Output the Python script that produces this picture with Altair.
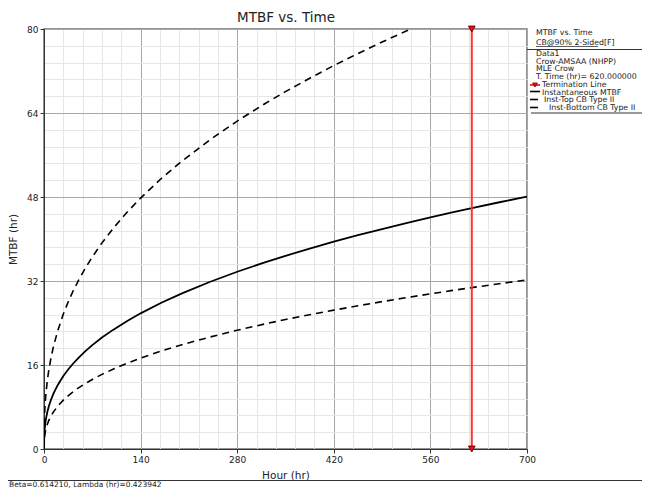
import altair as alt
import pandas as pd

# ---------------- data ----------------
hours = [0, 0.5, 1, 2, 3, 5, 7, 10, 14, 20, 28, 35, 42, 50, 60, 70, 84, 100, 120, 140,
         170, 200, 240, 280, 320, 350, 385, 420, 455, 490, 525, 560, 590, 620, 660, 700]
inst_mtbf = [0, 2.94, 3.84, 5.02, 5.87, 7.14, 8.13, 9.34, 10.63, 12.20, 13.89, 15.14, 16.24,
             17.37, 18.63, 19.78, 21.22, 22.69, 24.35, 25.84, 27.85, 29.65, 31.81, 33.76,
             35.55, 36.80, 38.17, 39.48, 40.72, 41.90, 43.03, 44.11, 45.01, 45.88, 47.00, 48.08]
top_hours = [0, 0.5, 1, 2, 3, 5, 7, 10, 14, 20, 28, 35, 42, 50, 60, 70, 84, 100, 120, 140,
             170, 200, 240, 280, 320, 350, 385, 420, 455, 490, 525, 560]
top_cb = [0, 5.44, 7.10, 9.29, 10.86, 13.21, 15.04, 17.28, 19.67, 22.57, 25.70, 28.01, 30.04,
          32.13, 34.47, 36.59, 39.26, 41.98, 45.05, 47.80, 51.52, 54.85, 58.85, 62.46,
          65.77, 68.08, 70.61, 73.04, 75.33, 77.52, 79.61, 81.60]
bottom_cb = [0, 1.97, 2.57, 3.36, 3.93, 4.78, 5.45, 6.26, 7.12, 8.17, 9.31, 10.14, 10.88,
             11.64, 12.48, 13.25, 14.22, 15.20, 16.31, 17.31, 18.66, 19.87, 21.31, 22.62,
             23.82, 24.66, 25.57, 26.45, 27.28, 28.07, 28.83, 29.55, 30.16, 30.74, 31.49, 32.21]
term_hour = [620, 620]
term_mtbf = [0, 80]

x_ticks = [0, 28, 56, 84, 112, 140, 168, 196, 224, 252, 280, 308, 336, 364, 392, 420,
           448, 476, 504, 532, 560, 588, 616, 644, 672, 700]
y_ticks = [0, 3.2, 6.4, 9.6, 12.8, 16, 19.2, 22.4, 25.6, 28.8, 32, 35.2, 38.4, 41.6, 44.8,
           48, 51.2, 54.4, 57.6, 60.8, 64, 67.2, 70.4, 73.6, 76.8, 80]

chart_title = "MTBF vs. Time"
legend_header = ["MTBF vs. Time", "CB@90% 2-Sided[F]"]
legend_info = ["Data1", "Crow-AMSAA (NHPP)", "MLE Crow", "T. Time (hr)= 620.000000"]
legend_items = ["Termination Line", "Instantaneous MTBF", "Inst-Top CB Type II",
                "Inst-Bottom CB Type II"]
status_text = "Beta=0.614210, Lambda (hr)=0.423942"

# ---------------- styling ----------------
FONT = "DejaVu Sans"
W, H = 483, 420
RED = "#ff3333"

main_df = pd.DataFrame({"hour": hours, "mtbf": inst_mtbf})
top_df = pd.DataFrame({"hour": top_hours, "mtbf": top_cb})
bot_df = pd.DataFrame({"hour": hours, "mtbf": bottom_cb})
term_df = pd.DataFrame({"hour": term_hour, "mtbf": term_mtbf})
one = pd.DataFrame({"k": [0]})

x_axis = alt.Axis(
    values=x_ticks,
    labelExpr="datum.value % 140 === 0 ? datum.label : ''",
    grid=True,
    gridColor=alt.condition("datum.value % 140 === 0", alt.value("#a8a8a8"), alt.value("#e6e6e6")),
    tickColor=alt.condition("datum.value % 140 === 0", alt.value("#333333"), alt.value("transparent")),
    tickSize=4, labelPadding=2, titlePadding=6, labelFlush=False,
)
y_axis = alt.Axis(
    values=y_ticks,
    labelExpr="datum.value % 16 === 0 ? datum.label : ''",
    grid=True,
    gridColor=alt.condition("datum.value % 16 === 0", alt.value("#a8a8a8"), alt.value("#e6e6e6")),
    tickColor=alt.condition("datum.value % 16 === 0", alt.value("#333333"), alt.value("transparent")),
    tickSize=4, labelPadding=2, titlePadding=8, labelFlush=False,
)
x_enc = alt.X("hour:Q", scale=alt.Scale(domain=[0, 700], nice=False, zero=False),
              axis=x_axis, title="Hour (hr)")
y_enc = alt.Y("mtbf:Q", scale=alt.Scale(domain=[0, 80], nice=False),
              axis=y_axis, title="MTBF (hr)")

inst_line = alt.Chart(main_df).mark_line(color="black", strokeWidth=1.8, clip=True).encode(x=x_enc, y=y_enc)
top_line = alt.Chart(top_df).mark_line(color="black", strokeWidth=1.6, strokeDash=[7, 5], clip=True).encode(x=x_enc, y=y_enc)
bot_line = alt.Chart(bot_df).mark_line(color="black", strokeWidth=1.6, strokeDash=[7, 5], clip=True).encode(x=x_enc, y=y_enc)
term_line = alt.Chart(term_df).mark_line(color=RED, strokeWidth=2).encode(x=x_enc, y=y_enc)
term_pts = alt.Chart(term_df).mark_point(shape="triangle-down", filled=True, fill="#ee1111",
                                         stroke="#7a0000", strokeWidth=1, size=45, opacity=1).encode(x=x_enc, y=y_enc)


def txt(s, x, y, size=7.8, align="left"):
    return alt.Chart(one).mark_text(font=FONT, fontSize=size, align=align, baseline="middle",
                                    color="#222222").encode(
        x=alt.value(x), y=alt.value(y), text=alt.value(s))


def hline(x1, x2, y, color="#333333", width=1.0):
    return alt.Chart(one).mark_rule(color=color, strokeWidth=width).encode(
        x=alt.value(x1), x2=alt.value(x2), y=alt.value(y))


# offsets: plot origin is at page (44, 29)
ox, oy = 44, 29
layers = [inst_line, top_line, bot_line, term_line, term_pts]
layers.append(txt(chart_title, 286 - ox, 17.5 - oy, size=13.5, align="center"))

# legend panel
layers.append(txt(legend_header[0], 536 - ox, 33 - oy))
layers.append(txt(legend_header[1], 536 - ox, 42.5 - oy))
layers.append(hline(536 - ox, 598 - ox, 46.5 - oy, width=0.8))
layers.append(hline(527 - ox, 642 - ox, 49.5 - oy, width=1))
for i, s in enumerate(legend_info):
    layers.append(txt(s, 536 - ox, 54 + i * 7.6 - oy))
item_y = [85, 92.5, 100, 107.7]
item_x = [542, 542, 544, 549]
for s, yy, xx in zip(legend_items, item_y, item_x):
    layers.append(txt(s, xx - ox, yy - oy))
layers.append(hline(530 - ox, 540 - ox, 85 - oy, color=RED, width=2))
layers.append(alt.Chart(one).mark_point(shape="triangle-down", filled=True, fill="#ee1111",
                                        stroke="#7a0000", strokeWidth=0.8, size=22, opacity=1).encode(
    x=alt.value(535 - ox), y=alt.value(85 - oy)))
layers.append(hline(530 - ox, 540 - ox, 91.5 - oy, color="black", width=1.6))
layers.append(hline(530 - ox, 538 - ox, 99.5 - oy, color="black", width=1.6))
layers.append(hline(530 - ox, 538 - ox, 107.5 - oy, color="black", width=1.6))
layers.append(hline(531 - ox, 642 - ox, 113 - oy, width=1))

# status bar (kept inside the visible page)
layers.append(hline(8 - ox, 642 - ox, 480.5 - oy, width=1.2))
layers.append(txt(status_text, 9 - ox, 484.5 - oy, size=7.5))

chart = alt.layer(*layers).properties(
    width=W, height=H,
    autosize=alt.AutoSizeParams(type="none"),
    padding={"left": 36, "top": 21, "right": 115, "bottom": 39},
).configure_axis(
    labelFont=FONT, titleFont=FONT, labelFontSize=9, titleFontSize=10.5,
    labelColor="#222222", titleColor="#222222", domainColor="#333333",
    titleFontWeight="normal",
).configure_view(stroke="#707070", strokeWidth=1.5)

chart.save("out.html", embed_options={"renderer": "svg", "actions": False})
